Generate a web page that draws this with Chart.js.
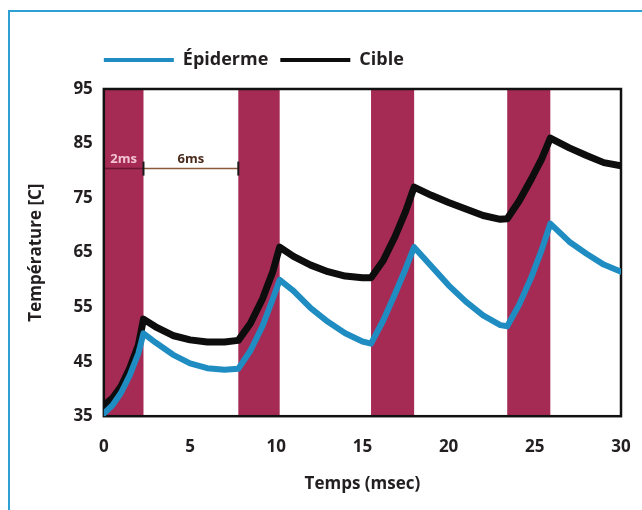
<!DOCTYPE html>
<html>
<head>
<meta charset="utf-8">
<script src="https://cdn.jsdelivr.net/npm/chart.js@4.4.0/dist/chart.umd.min.js"></script>
<style>
  body { margin: 0; background: #fff; }
  #cadre { position: absolute; left: 8px; top: 10px; width: 700px; height: 600px; border-left: 2px solid #2d9fd3; border-top: 2px solid #2d9fd3; }
  #graficoTemp { position: absolute; left: 0; top: 0; }
</style>
</head>
<body>
<div id="cadre"></div>
<canvas id="graficoTemp" width="642" height="510"></canvas>
<script>
// temps en msec
const temps = [0, 0.5, 1.0, 1.5, 2.0, 2.3, 3, 4, 5, 6, 7, 7.8, 8.5, 9.2, 9.8, 10.2,
  11, 12, 13, 14, 15, 15.5, 16.2, 16.9, 17.5, 18.0, 19, 20, 21, 22, 23, 23.4,
  24.1, 24.8, 25.4, 25.9, 27, 28, 29, 30];
const epiderme = [35.5, 37, 39.3, 42.5, 46.5, 50.2, 48.5, 46.3, 44.7, 43.8, 43.5, 43.7, 47, 51.5, 56.5, 60,
  58, 54.8, 52.3, 50.2, 48.7, 48.3, 52.5, 57.5, 62, 66, 62.5, 59, 56, 53.5, 51.7, 51.5,
  55.5, 60.5, 65.5, 70.3, 67, 64.8, 62.8, 61.5];
const cible = [37, 38.3, 40.5, 43.8, 48, 52.8, 51.4, 49.8, 49.0, 48.6, 48.6, 48.9, 52, 56.5, 61.5, 66,
  64.3, 62.7, 61.5, 60.7, 60.4, 60.4, 63.5, 68, 72.5, 77, 75.5, 74.2, 73, 71.8, 71.1, 71.2,
  74.5, 78.5, 82.2, 86, 84.2, 82.8, 81.5, 80.9];

// impulsions laser (msec)
const debutImpulsion = [0, 7.8, 15.5, 23.4];
const finImpulsion = [2.3, 10.2, 18.0, 25.9];

const ticksX = [0, 5, 10, 15, 20, 25, 30];
const ticksY = [35, 45, 55, 65, 75, 85, 95];

const texte = '#231f20';
const police = { family: 'Open Sans', size: 17, weight: 'bold' };
const hauteurLegende = 89;
const centreLegende = 60;

const impulsions = {
  id: 'impulsions',
  beforeDatasetsDraw(chart) {
    const { ctx, chartArea: a, scales: { x, y } } = chart;
    ctx.save();
    ctx.fillStyle = '#a52b55';
    debutImpulsion.forEach((d, i) => {
      const x0 = x.getPixelForValue(d);
      const x1 = x.getPixelForValue(finImpulsion[i]);
      ctx.fillRect(x0, a.top, x1 - x0, a.bottom - a.top);
    });

    // cotes 2ms / 6ms
    const yl = y.getPixelForValue(80.4);
    const yt = y.getPixelForValue(82.2);
    const x0 = x.getPixelForValue(debutImpulsion[0]);
    const xa = x.getPixelForValue(finImpulsion[0]);
    const xb = x.getPixelForValue(debutImpulsion[1]);
    ctx.lineWidth = 1.5;
    ctx.strokeStyle = '#6e1730';
    ctx.beginPath(); ctx.moveTo(x0, yl); ctx.lineTo(xa, yl); ctx.stroke();
    ctx.strokeStyle = '#8a5a3c';
    ctx.beginPath(); ctx.moveTo(xa, yl); ctx.lineTo(xb, yl); ctx.stroke();
    ctx.strokeStyle = '#1a1a1a';
    ctx.lineWidth = 2;
    [xa, xb].forEach(px => {
      ctx.beginPath(); ctx.moveTo(px, yl - 7); ctx.lineTo(px, yl + 7); ctx.stroke();
    });
    ctx.font = 'bold 13px "Open Sans"';
    ctx.textBaseline = 'middle';
    ctx.textAlign = 'center';
    ctx.fillStyle = '#f2c4d2';
    ctx.fillText('2ms', (x0 + xa) / 2, yt);
    ctx.fillStyle = '#4a2a1c';
    ctx.fillText('6ms', (xa + xb) / 2, yt);

    // cadre du graphique
    ctx.strokeStyle = '#111';
    ctx.lineWidth = 2.5;
    ctx.strokeRect(a.left, a.top, a.right - a.left, a.bottom - a.top);
    ctx.restore();
  }
};

// legende alignee sur le graphique
const placeLegende = {
  id: 'placeLegende',
  afterInit(chart) {
    const legende = chart.legend;
    const fit = legende.fit;
    legende.fit = function () { fit.call(this); this.height = hauteurLegende; };
  },
  afterLayout(chart) {
    const lab = chart.options.plugins.legend.labels;
    chart.legend.left = chart.chartArea.left - lab.padding;
    chart.legend.top = centreLegende - lab.padding - lab.font.size / 2;
  }
};

const ctx = document.getElementById('graficoTemp').getContext('2d');
new Chart(ctx, {
  type: 'line',
  data: {
    datasets: [{
      label: 'Épiderme',
      data: temps.map((t, i) => ({ x: t, y: epiderme[i] })),
      borderColor: '#1f8cc2',
      backgroundColor: '#1f8cc2',
      borderWidth: 6,
      pointRadius: 0,
      borderJoinStyle: 'round',
      borderCapStyle: 'round'
    }, {
      label: 'Cible',
      data: temps.map((t, i) => ({ x: t, y: cible[i] })),
      borderColor: '#0d0d0d',
      backgroundColor: '#0d0d0d',
      borderWidth: 7,
      pointRadius: 0,
      borderJoinStyle: 'round',
      borderCapStyle: 'round'
    }]
  },
  options: {
    responsive: false,
    animation: false,
    layout: { padding: { left: 26, right: 21, top: 0, bottom: 16 } },
    plugins: {
      tooltip: { enabled: false },
      legend: {
        align: 'start',
        labels: {
          color: texte,
          font: { family: 'Open Sans', size: 18, weight: 'bold' },
          boxWidth: 70,
          boxHeight: 4,
          padding: 12,
          generateLabels: chart => Chart.defaults.plugins.legend.labels.generateLabels(chart)
            .map(l => Object.assign(l, { lineWidth: 0 }))
        }
      }
    },
    scales: {
      x: {
        type: 'linear',
        min: 0,
        max: 30,
        afterBuildTicks: s => { s.ticks = ticksX.map(v => ({ value: v })); },
        grid: { display: false, drawTicks: true, tickLength: 19 },
        border: { display: false },
        ticks: { color: texte, font: police, padding: 2 },
        title: { display: true, text: 'Temps (msec)', color: texte, font: police, padding: { top: 14, bottom: 0 } }
      },
      y: {
        min: 35,
        max: 95,
        afterBuildTicks: s => { s.ticks = ticksY.map(v => ({ value: v })); },
        grid: { display: false, drawTicks: false },
        border: { display: false },
        ticks: { color: texte, font: police, padding: 11 },
        title: { display: true, text: 'Température [C]', color: texte, font: police, padding: { top: 0, bottom: 16 } }
      }
    }
  },
  plugins: [impulsions, placeLegende]
});
</script>
</body>
</html>
